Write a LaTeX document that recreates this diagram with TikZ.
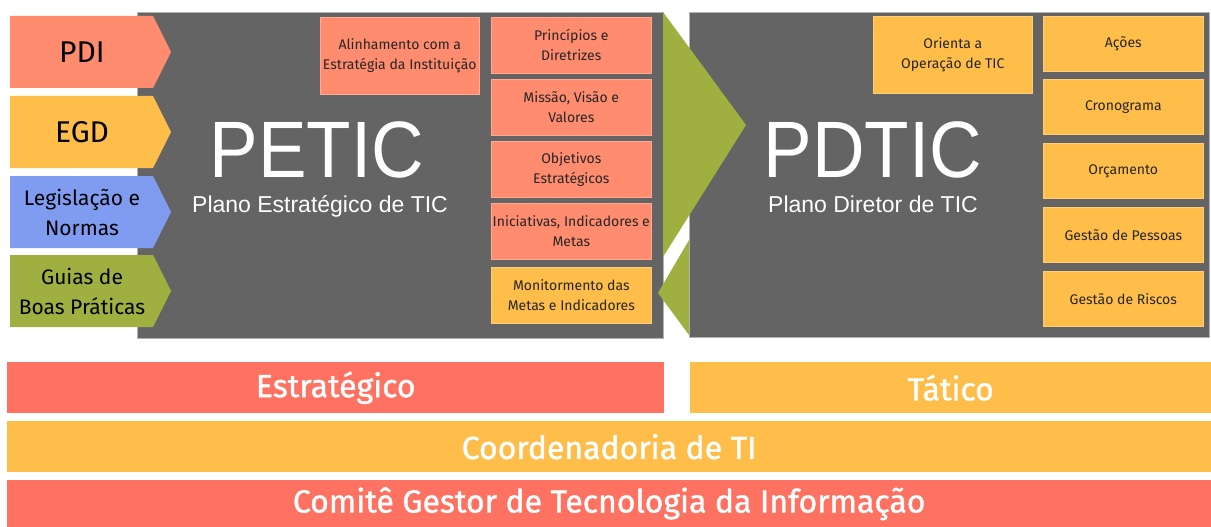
\documentclass[tikz,border=0pt]{standalone}
\usepackage{fontspec}
\setmainfont{Fira Sans}
\newfontfamily\arialfont{Liberation Sans}
\newfontfamily\titlefont{Liberation Sans}[FakeStretch=0.91]
\newfontfamily\barfont{Fira Sans}[FakeBold=1.2]
\definecolor{salmon}{HTML}{FF8C6E}
\definecolor{amber}{HTML}{FFBD4A}
\definecolor{redbar}{HTML}{FF7262}
\definecolor{bluearrow}{HTML}{7F9CF0}
\definecolor{olive}{HTML}{A0B040}
\definecolor{panelgray}{HTML}{646464}

\tikzset{
  cell/.style={fill=#1, draw=#1!75!white, line width=0.6pt, inner sep=0pt,
    align=center, text=black!85, anchor=north west,
    font=\fontsize{14}{20}\selectfont},
  panel/.style={fill=panelgray, draw=gray!60, line width=0.6pt, inner sep=0pt,
    anchor=north west},
  bar/.style={fill=#1, inner sep=0pt, text=white, anchor=north west,
    font=\barfont\fontsize{32}{34}\selectfont},
  big title/.style={text=white, anchor=base, font=\titlefont\fontsize{80}{80}\selectfont},
  sub title/.style={text=white, anchor=base, font=\arialfont\fontsize{23}{23}\selectfont}
}

\begin{document}
\begin{tikzpicture}[x=1pt, y=-1pt]
\useasboundingbox (0,0) rectangle (1211,527);

% the two plans
\node[panel, minimum width=526, minimum height=326] (petic) at (137,12) {};
\node[panel, minimum width=520, minimum height=325] (pdtic) at (689,12) {};

% inputs on the left
\foreach \name/\txt/\col/\top/\sz/\lead in {pdi/PDI/salmon/16/30/36, egd/EGD/amber/96/30/36,
    legis/{Legislação e\\Normas}/bluearrow/176/21/30, guias/{Guias de\\Boas Práticas}/olive/255/21/30} {
  \fill[\col] (10,\top) -- ++(143,0) -- ++(18,36) -- ++(-18,36) -- ++(-143,0) -- cycle;
  \node[align=center, inner sep=0pt, font=\fontsize{\sz}{\lead}\selectfont] (\name) at (82,\top+36) {\txt};
}

\fill[olive] (663,12) -- (746,125) -- (663,257) -- cycle;
\fill[olive] (689,240) -- (658,293) -- (689,335) -- cycle;

\node[big title] (peticname) at (317,177) {PETIC};
\node[sub title] (peticsub) at (320,212) {Plano Estratégico de TIC};
\node[big title] (pdticname) at (873,177) {PDTIC};
\node[sub title] (pdticsub) at (873,212) {Plano Diretor de TIC};

\node[cell=salmon, minimum width=159, minimum height=77] (alinha) at (320,17)
  {Alinhamento com a\\Estratégia da Instituição};
\foreach \name/\txt/\col/\top in {princ/{Princípios e\\Diretrizes}/salmon/17,
    missao/{Missão, Visão e\\Valores}/salmon/79, objet/{Objetivos\\Estratégicos}/salmon/141,
    inic/{Iniciativas, Indicadores e\\Metas}/salmon/203,
    monit/{Monitormento das\\Metas e Indicadores}/amber/267}
  \node[cell=\col, minimum width=160, minimum height=56] (\name) at (491,\top) {\txt};

\node[cell=amber, minimum width=159, minimum height=77] (orienta) at (873,16)
  {Orienta a\\Operação de TIC};
\foreach \name/\txt/\top in {acoes/Ações/16, crono/Cronograma/79, orcam/Orçamento/143,
    pessoas/Gestão de Pessoas/207, riscos/Gestão de Riscos/271}
  \node[cell=amber, minimum width=160, minimum height=55] (\name) at (1043,\top) {\txt};

% levels
\node[bar=redbar, minimum width=657, minimum height=51] (estrat) at (7,362) {Estratégico};
\node[bar=amber, minimum width=521, minimum height=51] (tatico) at (690,362) {Tático};
\node[bar=amber, minimum width=1204, minimum height=51] (coord) at (7,421) {Coordenadoria de TI};
\node[bar=redbar, minimum width=1204, minimum height=47] (comite) at (7,480)
  {Comitê Gestor de Tecnologia da Informação};
\end{tikzpicture}
\end{document}
